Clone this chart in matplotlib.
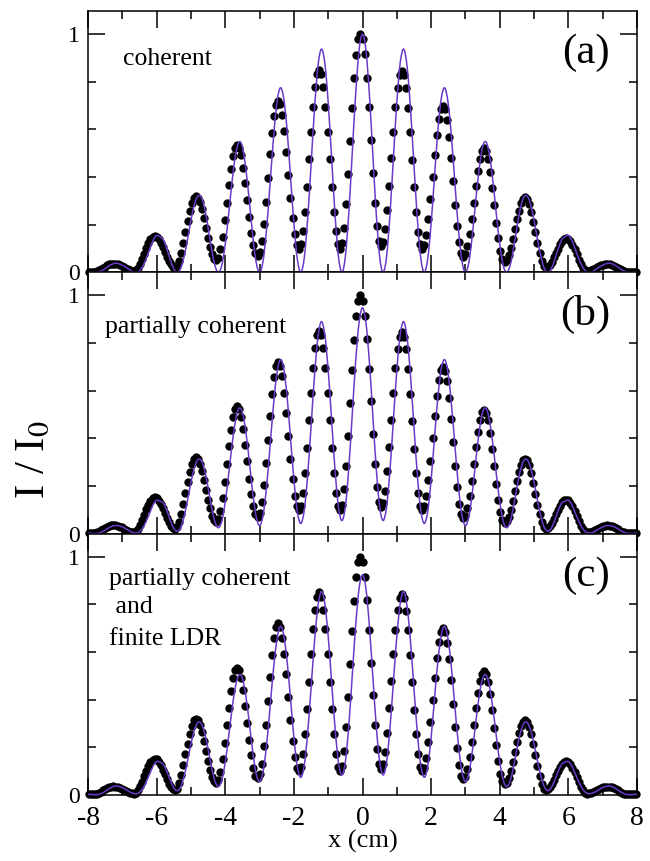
import numpy as np
import matplotlib
matplotlib.use("Agg")
import matplotlib.pyplot as plt
from matplotlib.ticker import MultipleLocator, FixedLocator
from matplotlib.path import Path
from matplotlib.patches import PathPatch

plt.rcParams['font.family'] = ['Liberation Serif', 'DejaVu Serif']
plt.rcParams['mathtext.fontset'] = 'stix'

# ---------------- data ----------------
# theory curves sampled every 0.1 cm from -8 to 8
x_line = np.round(np.linspace(-8.0, 8.0, 161), 1)

line_a = [
    0.003, 0.001, 0.000, 0.002, 0.007, 0.016, 0.026, 0.034, 0.038, 0.036,
    0.030, 0.022, 0.012, 0.003, 0.000, 0.006, 0.027, 0.059, 0.098, 0.135,
    0.155, 0.150, 0.135, 0.097, 0.052, 0.015, 0.000, 0.017, 0.066, 0.138,
    0.218, 0.285, 0.320, 0.315, 0.268, 0.188, 0.099, 0.028, 0.000, 0.030,
    0.118, 0.245, 0.383, 0.493, 0.547, 0.527, 0.435, 0.300, 0.155, 0.043,
    0.000, 0.046, 0.175, 0.360, 0.554, 0.706, 0.774, 0.734, 0.600, 0.405,
    0.206, 0.056, 0.000, 0.058, 0.221, 0.450, 0.684, 0.863, 0.937, 0.881,
    0.713, 0.480, 0.242, 0.065, 0.000, 0.066, 0.248, 0.498, 0.748, 0.933,
    1.000,
    0.933, 0.748, 0.498, 0.248, 0.066, 0.000, 0.065, 0.242, 0.480, 0.713,
    0.881, 0.937, 0.863, 0.684, 0.450, 0.221, 0.058, 0.000, 0.056, 0.206,
    0.405, 0.600, 0.734, 0.774, 0.706, 0.554, 0.360, 0.175, 0.046, 0.000,
    0.043, 0.155, 0.300, 0.435, 0.527, 0.547, 0.493, 0.383, 0.245, 0.118,
    0.030, 0.000, 0.028, 0.099, 0.188, 0.268, 0.315, 0.320, 0.285, 0.218,
    0.138, 0.066, 0.017, 0.000, 0.015, 0.052, 0.097, 0.135, 0.150, 0.155,
    0.135, 0.098, 0.059, 0.027, 0.006, 0.000, 0.003, 0.012, 0.022, 0.030,
    0.036, 0.038, 0.034, 0.026, 0.016, 0.007, 0.002, 0.000, 0.001, 0.003,
]

line_b = [
    0.003, 0.001, 0.001, 0.002, 0.007, 0.015, 0.024, 0.031, 0.034, 0.033,
    0.028, 0.021, 0.012, 0.005, 0.003, 0.008, 0.025, 0.054, 0.087, 0.122,
    0.140, 0.136, 0.128, 0.095, 0.055, 0.022, 0.010, 0.026, 0.072, 0.141,
    0.215, 0.277, 0.310, 0.307, 0.265, 0.193, 0.112, 0.049, 0.025, 0.053,
    0.134, 0.250, 0.375, 0.476, 0.526, 0.509, 0.428, 0.305, 0.172, 0.072,
    0.034, 0.076, 0.192, 0.358, 0.531, 0.668, 0.730, 0.696, 0.578, 0.405,
    0.227, 0.093, 0.043, 0.096, 0.243, 0.448, 0.661, 0.822, 0.890, 0.837,
    0.686, 0.476, 0.266, 0.111, 0.055, 0.113, 0.275, 0.498, 0.722, 0.886,
    0.948,
    0.886, 0.722, 0.498, 0.275, 0.113, 0.055, 0.111, 0.266, 0.476, 0.686,
    0.837, 0.890, 0.822, 0.661, 0.448, 0.243, 0.096, 0.043, 0.093, 0.227,
    0.405, 0.578, 0.696, 0.730, 0.668, 0.531, 0.358, 0.192, 0.076, 0.034,
    0.072, 0.172, 0.305, 0.428, 0.509, 0.526, 0.476, 0.375, 0.250, 0.134,
    0.053, 0.025, 0.049, 0.112, 0.193, 0.265, 0.307, 0.310, 0.277, 0.215,
    0.141, 0.072, 0.026, 0.010, 0.022, 0.055, 0.095, 0.128, 0.136, 0.140,
    0.122, 0.087, 0.054, 0.025, 0.008, 0.003, 0.005, 0.012, 0.021, 0.028,
    0.033, 0.034, 0.031, 0.024, 0.015, 0.007, 0.002, 0.001, 0.001, 0.003,
]

line_c = [
    0.003, 0.002, 0.001, 0.002, 0.007, 0.015, 0.025, 0.033, 0.038, 0.036,
    0.031, 0.023, 0.014, 0.008, 0.005, 0.011, 0.028, 0.056, 0.089, 0.122,
    0.140, 0.138, 0.127, 0.098, 0.061, 0.030, 0.018, 0.034, 0.078, 0.143,
    0.214, 0.272, 0.304, 0.300, 0.260, 0.193, 0.117, 0.058, 0.035, 0.063,
    0.138, 0.247, 0.363, 0.457, 0.504, 0.489, 0.416, 0.303, 0.183, 0.090,
    0.056, 0.096, 0.204, 0.359, 0.521, 0.648, 0.707, 0.675, 0.565, 0.407,
    0.242, 0.120, 0.074, 0.123, 0.258, 0.447, 0.642, 0.791, 0.854, 0.805,
    0.666, 0.474, 0.280, 0.136, 0.084, 0.139, 0.290, 0.499, 0.710, 0.866,
    0.924,
    0.866, 0.710, 0.499, 0.290, 0.139, 0.084, 0.136, 0.280, 0.474, 0.666,
    0.805, 0.854, 0.791, 0.642, 0.447, 0.258, 0.123, 0.074, 0.120, 0.242,
    0.407, 0.565, 0.675, 0.707, 0.648, 0.521, 0.359, 0.204, 0.096, 0.056,
    0.090, 0.183, 0.303, 0.416, 0.489, 0.504, 0.457, 0.363, 0.247, 0.138,
    0.063, 0.035, 0.058, 0.117, 0.193, 0.260, 0.300, 0.304, 0.272, 0.214,
    0.143, 0.078, 0.034, 0.018, 0.030, 0.061, 0.098, 0.127, 0.138, 0.140,
    0.122, 0.089, 0.056, 0.028, 0.011, 0.005, 0.008, 0.014, 0.023, 0.031,
    0.036, 0.038, 0.033, 0.025, 0.015, 0.007, 0.002, 0.001, 0.002, 0.003,
]

# measured points (same data set in all three panels), every 0.06 cm
x_dots = np.round(np.arange(267) * 0.06 - 7.98, 2)
dots_y = [
    0.002, 0.002, 0.002,
    0.003, 0.005, 0.009, 0.014, 0.019, 0.024, 0.029, 0.033, 0.035, 0.036,
    0.035, 0.033, 0.030, 0.026, 0.021, 0.016, 0.012, 0.009, 0.007, 0.006,
    0.010, 0.020, 0.036, 0.056, 0.079, 0.102, 0.122, 0.138, 0.148, 0.152,
    0.149, 0.139, 0.125, 0.106, 0.086, 0.066, 0.047, 0.033, 0.023, 0.020,
    0.027, 0.049, 0.082, 0.124, 0.170, 0.216, 0.258, 0.291, 0.313, 0.320,
    0.313, 0.294, 0.264, 0.227, 0.185, 0.143, 0.106, 0.076, 0.057, 0.050,
    0.062, 0.096, 0.150, 0.218, 0.293, 0.367, 0.435, 0.489, 0.523, 0.535,
    0.524, 0.491, 0.439, 0.374, 0.303, 0.231, 0.166, 0.114, 0.081, 0.070,
    0.086, 0.132, 0.204, 0.295, 0.395, 0.495, 0.586, 0.658, 0.704, 0.720,
    0.705, 0.661, 0.592, 0.506, 0.410, 0.314, 0.228, 0.159, 0.115, 0.100,
    0.118, 0.172, 0.255, 0.359, 0.475, 0.591, 0.695, 0.778, 0.832, 0.850,
    0.832, 0.778, 0.695, 0.591, 0.475, 0.359, 0.255, 0.172, 0.118, 0.100,
    0.122, 0.186, 0.285, 0.411, 0.550, 0.689, 0.815, 0.914, 0.978, 1.000,
    0.978, 0.915, 0.817, 0.693, 0.555, 0.418, 0.293, 0.195, 0.132, 0.110,
    0.128, 0.180, 0.262, 0.364, 0.478, 0.591, 0.694, 0.775, 0.827, 0.845,
    0.827, 0.774, 0.691, 0.588, 0.473, 0.357, 0.254, 0.171, 0.118, 0.100,
    0.115, 0.157, 0.224, 0.307, 0.400, 0.493, 0.576, 0.643, 0.685, 0.700,
    0.684, 0.639, 0.569, 0.481, 0.383, 0.284, 0.196, 0.126, 0.081, 0.065,
    0.076, 0.109, 0.159, 0.222, 0.293, 0.363, 0.426, 0.477, 0.509, 0.520,
    0.508, 0.475, 0.422, 0.356, 0.283, 0.209, 0.143, 0.090, 0.057, 0.045,
    0.052, 0.071, 0.101, 0.138, 0.180, 0.222, 0.259, 0.289, 0.308, 0.315,
    0.308, 0.287, 0.254, 0.213, 0.168, 0.122, 0.081, 0.048, 0.027, 0.020,
    0.023, 0.032, 0.045, 0.063, 0.082, 0.100, 0.118, 0.131, 0.140, 0.143,
    0.140, 0.130, 0.115, 0.096, 0.075, 0.053, 0.034, 0.019, 0.009, 0.006,
    0.007, 0.009, 0.012, 0.016, 0.021, 0.025, 0.029, 0.032, 0.034, 0.035,
    0.034, 0.032, 0.028, 0.024, 0.019, 0.013, 0.009, 0.005, 0.003, 0.002,
    0.002, 0.002, 0.002, 0.003,
]

panel_tags = ['(a)', '(b)', '(c)']
panel_notes = [
    [('coherent', -6.98, 0.87)],
    [('partially coherent', -7.5, 0.843)],
    [('partially coherent', -7.38, 0.882), (' and', -7.38, 0.763), ('finite LDR', -7.38, 0.63)],
]
x_ticklabels = ['-8', '-6', '-4', '-2', '0', '2', '4', '6', '8']
y_ticklabels = ['0', '1']
lines = [line_a, line_b, line_c]


def smooth_path(xs, ys):
    """Smooth (Catmull-Rom style) Bezier path through the sampled points."""
    p = np.column_stack([np.asarray(xs, float), np.asarray(ys, float)])
    n = len(p)
    verts = [p[0]]
    codes = [Path.MOVETO]
    for i in range(n - 1):
        p0 = p[i - 1] if i > 0 else p[i]
        p1, p2 = p[i], p[i + 1]
        p3 = p[i + 2] if i + 2 < n else p[i + 1]
        c1 = p1 + (p2 - p0) / 6.0
        c2 = p2 - (p3 - p1) / 6.0
        verts += [c1, c2, p2]
        codes += [Path.CURVE4] * 3
    return Path(verts, codes)


# ---------------- figure ----------------
fig = plt.figure(figsize=(6.5, 8.61), dpi=100)
gs = fig.add_gridspec(3, 1, left=0.1354, right=0.98, top=0.9872,
                      bottom=0.0767, hspace=0)

line_color = '#6a3acb'
for i in range(3):
    ax = fig.add_subplot(gs[i])
    ax.plot(x_dots, dots_y, 'o', color='black', ms=6.0, mew=0,
            zorder=2, clip_on=False)
    patch = PathPatch(smooth_path(x_line, lines[i]), facecolor='none',
                      edgecolor=line_color, lw=1.1, zorder=3, clip_on=False)
    ax.add_patch(patch)
    ax.set_xlim(-8, 8)
    ax.set_ylim(0, 1.097)

    ax.xaxis.set_major_locator(MultipleLocator(2))
    ax.xaxis.set_minor_locator(MultipleLocator(1))
    ax.yaxis.set_major_locator(FixedLocator([0, 1]))
    ax.yaxis.set_minor_locator(FixedLocator([0.2, 0.4, 0.6, 0.8]))
    ax.tick_params(which='both', direction='in', top=True, right=True,
                   width=1.1, colors='black')
    ax.tick_params(which='major', length=12)
    ax.tick_params(which='minor', length=6)
    ax.tick_params(axis='y', which='major', labelsize=17, pad=6)
    ax.set_yticklabels(y_ticklabels)
    if i < 2:
        ax.tick_params(axis='x', labelbottom=False)
    else:
        ax.set_xticks(np.arange(-8, 9, 2))
        ax.set_xticklabels(x_ticklabels)
        ax.tick_params(axis='x', which='major', labelsize=20, pad=8)
        ax.set_xlabel('x (cm)', fontsize=19, labelpad=-1)
    for sp in ax.spines.values():
        sp.set_linewidth(1.1)

    ax.text(6.5, 0.92, panel_tags[i], fontsize=31, ha='center',
            va='center')
    for txt, tx, ty in panel_notes[i]:
        ax.text(tx, ty, txt, fontsize=18.5, ha='left', va='baseline')

fig.text(0.052, 0.466, 'I / I$_{0}$', fontsize=31, rotation=90,
         ha='center', va='center')

fig.savefig('out.png', dpi=100)
